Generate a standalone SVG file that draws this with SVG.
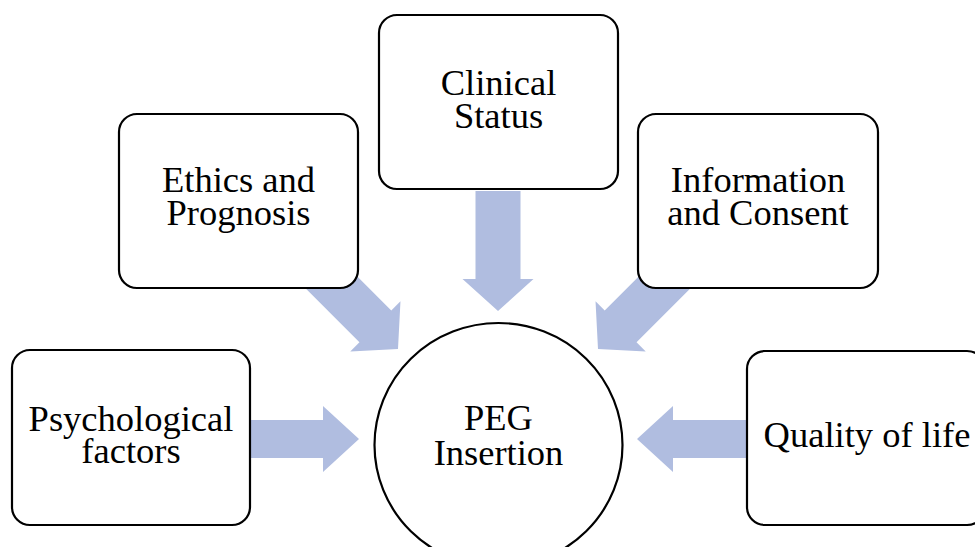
<svg xmlns="http://www.w3.org/2000/svg" width="975" height="547" viewBox="0 0 975 547">
<defs>
<style>
.box{fill:#fff;stroke:#000;stroke-width:2.2}
.arrow{fill:#B0BDE0}
text{font-family:"Liberation Serif","Times New Roman",serif;font-size:36.5px;fill:#000;text-anchor:middle}
</style>
<polygon id="arr" points="0,0 35.5,-32 22.5,-32 22.5,-120 -22.5,-120 -22.5,-32 -35.5,-32"/>
</defs>
<rect width="975" height="547" fill="#fff"/>
<g id="connectors" class="arrow">
<use href="#arr" transform="translate(498,311)"/>
<use href="#arr" transform="translate(398,349) rotate(-45)"/>
<use href="#arr" transform="translate(598,349) rotate(45)"/>
<polygon points="250,420 323,420 323,406 359,439 323,472 323,458 250,458"/>
<polygon points="747,420 673,420 673,406 637,439 673,472 673,458 747,458"/>
</g>
<g id="ethics">
<rect class="box" x="119" y="114" width="239" height="174" rx="18"/>
<text x="238.5" y="192">Ethics and</text>
<text x="238.5" y="225">Prognosis</text>
</g>
<g id="clinical">
<rect class="box" x="379" y="15" width="239" height="174" rx="18"/>
<text x="498.5" y="95">Clinical</text>
<text x="498.5" y="128">Status</text>
</g>
<g id="information">
<rect class="box" x="638" y="114" width="240" height="174" rx="18"/>
<text x="758" y="192">Information</text>
<text x="758" y="225">and Consent</text>
</g>
<g id="psychological">
<rect class="box" x="12" y="350" width="238" height="175" rx="18"/>
<text x="131" y="431">Psychological</text>
<text x="131" y="463">factors</text>
</g>
<g id="quality">
<rect class="box" x="747" y="351" width="238" height="174" rx="18"/>
<text x="867" y="447">Quality of life</text>
</g>
<g id="peg">
<ellipse class="box" cx="498.5" cy="445" rx="124" ry="122"/>
<text x="498.5" y="430">PEG</text>
<text x="498.5" y="465">Insertion</text>
</g>
</svg>
